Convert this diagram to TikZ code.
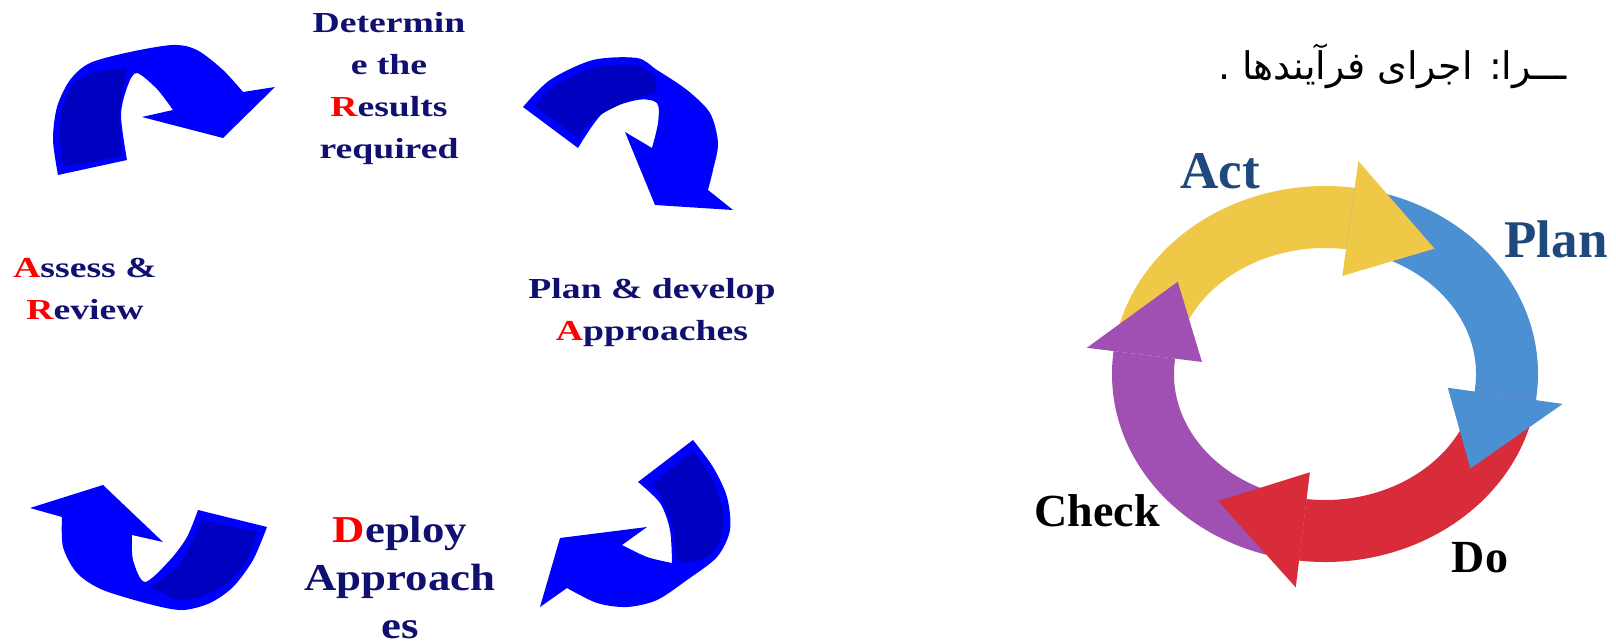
\documentclass[tikz,border=0pt]{standalone}
\usepackage{fontspec}
\setmainfont{Liberation Serif}
\newfontfamily\stretchserif[FakeStretch=1.3]{Liberation Serif}
\newfontfamily\deployserif[FakeStretch=1.18]{Liberation Serif}
\newfontfamily\arabicfont[Script=Arabic]{DejaVu Sans}
\TeXXeTstate=1

\definecolor{textnavy}{RGB}{16,16,112}
\definecolor{clipblue}{RGB}{0,0,255}
\definecolor{clipdark}{RGB}{0,0,192}
\definecolor{actyellow}{RGB}{240,200,72}
\definecolor{planblue}{RGB}{74,144,210}
\definecolor{dored}{RGB}{216,44,58}
\definecolor{checkpurple}{RGB}{160,80,178}
\definecolor{labelblue}{RGB}{31,73,125}

\tikzset{
  steptext/.style={inner sep=0, align=center, anchor=north, text=textnavy,
    font=\stretchserif\bfseries\fontsize{29}{42}\selectfont},
  ringlabel/.style={inner sep=0, anchor=base, font=\bfseries\fontsize{53}{60}\selectfont},
  clipface/.style={fill=clipdark}
}

\begin{document}
\begin{tikzpicture}[x=1pt, y=-1pt]
\useasboundingbox (0,0) rectangle (1616,644);

% blue clip-art arrows, left cycle
\fill[clipblue] (523,107) -- plot[smooth] coordinates {(523,107) (550,80) (593,60) (637,58) (657,70) (687,90) (710,113) (718,143) (713,170) (708,190)}
  -- (733,210) -- (655,205) -- (625,132) -- (652,148)
  -- plot[smooth] coordinates {(652,148) (658,123) (657,103) (637,100) (603,113) (578,148)} -- cycle;
\fill[clipface] plot[smooth] coordinates {(535,106) (553,87) (593,68) (637,65) (655,77)}
  -- (657,93) -- plot[smooth] coordinates {(657,93) (630,100) (597,117) (577,137)} -- cycle;

\fill[clipblue] (693,440) -- plot[smooth] coordinates {(693,440) (713,467) (727,497) (730,530) (717,557) (687,580) (657,600) (627,607) (597,603) (567,588)}
  -- (540,607) -- (560,538) -- (647,527) -- (622,545)
  -- plot[smooth] coordinates {(622,545) (647,557) (672,563)}
  -- plot[smooth] coordinates {(672,563) (670,530) (660,503) (638,482)} -- cycle;
\fill[clipface] (652,484) -- plot[smooth] coordinates {(693,451) (713,480) (723,513) (720,540) (707,557) (683,563)}
  -- plot[smooth] coordinates {(676,560) (673,530) (664,503) (652,484)} -- cycle;

\fill[clipblue] (30,508) -- (103,485) -- (163,542) -- (132,535)
  -- plot[smooth] coordinates {(132,535) (133,560) (145,582) (170,560) (187,537) (198,510)}
  -- (267,527) -- plot[smooth] coordinates {(267,527) (253,560) (233,587) (210,603) (183,610) (153,605) (103,590) (77,573) (63,547) (62,517)} -- cycle;
\fill[clipface] plot[smooth] coordinates {(150,587) (177,567) (193,540) (202,520)}
  -- (257,532) -- plot[smooth] coordinates {(257,532) (247,560) (227,583) (200,597) (177,600)} -- cycle;

\fill[clipblue] (58,175) -- plot[smooth] coordinates {(58,175) (53,140) (57,107) (70,80) (90,63) (130,52) (173,45) (197,50) (223,70) (243,92)}
  -- (275,87) -- (223,138) -- (142,117) -- (173,110)
  -- plot[smooth] coordinates {(173,110) (157,89) (137,73) (128,85) (121,115) (127,160)} -- cycle;
\fill[clipface] plot[smooth] coordinates {(63,167) (60,135) (63,105) (75,83) (95,72) (127,68)}
  -- plot[smooth] coordinates {(127,68) (123,90) (119,120) (122,156)} -- cycle;

% step labels
\node[steptext] (results) at (389,12) {Determin\\e the\\{\color{red}R}esults\\required};
\node[steptext] (plan) at (652,278) {Plan \& develop\\{\color{red}A}pproaches};
\node[steptext, font=\deployserif\bfseries\fontsize{38}{48}\selectfont] (deploy) at (400,516) {{\color{red}D}eploy\\Approach\\es};
\node[steptext] (review) at (85,258) {{\color{red}A}ssess \&\\{\color{red}R}eview};

% PDCA ring
\begin{scope}[shift={(1325,374)}, yscale=-1]
\pgfmathsetmacro\rx{182}
\pgfmathsetmacro\ry{157}
\pgfmathsetmacro\bw{31}
\pgfmathsetmacro\hw{58}
\pgfmathsetmacro\ox{\rx+\bw}
\pgfmathsetmacro\oy{\ry+\bw}
\pgfmathsetmacro\ix{\rx-\bw}
\pgfmathsetmacro\iy{\ry-\bw}
\pgfmathsetmacro\hox{\rx+\hw}
\pgfmathsetmacro\hoy{\ry+\hw}
\pgfmathsetmacro\hix{\rx-\hw}
\pgfmathsetmacro\hiy{\ry-\hw}
\foreach \s/\e/\c in {173/82/actyellow, 82/-8/planblue, -8/-97/dored, 263/173/checkpurple}
{
  \fill[\c] ({\ox*cos(\s)},{\oy*sin(\s)}) arc[start angle=\s, end angle=\e, x radius=\ox, y radius=\oy]
    -- ({\ix*cos(\e)},{\iy*sin(\e)}) arc[start angle=\e, end angle=\s, x radius=\ix, y radius=\iy] -- cycle;
}
\foreach \e/\c in {82/actyellow, -8/planblue, -97/dored, 173/checkpurple}
{
  \pgfmathsetmacro\tip{\e-29}
  \fill[\c] ({\hox*cos(\e)},{\hoy*sin(\e)}) -- ({\rx*cos(\tip)},{\ry*sin(\tip)}) -- ({\hix*cos(\e)},{\hiy*sin(\e)}) -- cycle;
}
\end{scope}

\node[ringlabel, text=labelblue] (act) at (1220,189) {Act};
\node[ringlabel, text=labelblue] (plantext) at (1556,258) {Plan};
\node[ringlabel, font=\bfseries\fontsize{46}{54}\selectfont] (check) at (1097,526) {Check};
\node[ringlabel, font=\bfseries\fontsize{46}{54}\selectfont] (do) at (1480,572) {Do};

% persian heading line
\node[inner sep=0, anchor=base east, font=\arabicfont\fontsize{38}{46}\selectfont] (heading) at (1567,80) {\beginR ـــرا: اجرای فرآیندها .\endR};
\end{tikzpicture}
\end{document}
